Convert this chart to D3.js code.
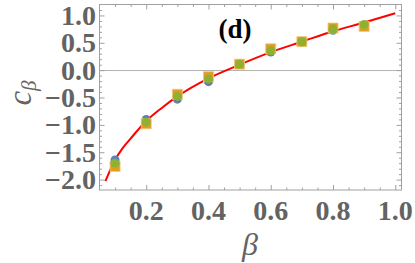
<!DOCTYPE html>
<html>
<head>
<meta charset="utf-8">
<script src="https://cdn.jsdelivr.net/npm/d3@7"></script>
<style>
  html, body { margin: 0; padding: 0; background: #fff; }
  svg { display: block; }
</style>
</head>
<body>
<div id="chart"></div>
<script>
const betas = [0.1, 0.2, 0.3, 0.4, 0.5, 0.6, 0.7, 0.8, 0.9]
const blueVals = [-1.64, -0.90, -0.53, -0.21, 0.11, 0.33, 0.51, 0.73, 0.82]
const orangeVals = [-1.76, -0.98, -0.44, -0.12, 0.11, 0.39, 0.52, 0.77, 0.80]
const greenVals = [-1.70, -0.95, -0.48, -0.16, 0.11, 0.355, 0.52, 0.75, 0.835]

const fitBeta = [0.069, 0.08, 0.1, 0.125, 0.15, 0.2, 0.25, 0.3, 0.4, 0.5, 0.6, 0.7, 0.8, 0.9, 1.0]
const fitC = [-2.03, -1.88, -1.64, -1.42, -1.25, -0.93, -0.69, -0.48, -0.15, 0.10, 0.33, 0.52, 0.71, 0.87, 1.04]

const xTicks = [0.2, 0.4, 0.6, 0.8, 1.0]
const xMinor = [0.1, 0.15, 0.25, 0.3, 0.35, 0.45, 0.5, 0.55, 0.65, 0.7, 0.75, 0.85, 0.9, 0.95]
const yTicks = [-2.0, -1.5, -1.0, -0.5, 0.0, 0.5, 1.0]
const yMinor = [-2.1, -1.9, -1.8, -1.7, -1.6, -1.4, -1.3, -1.2, -1.1, -0.9, -0.8, -0.7, -0.6,
  -0.4, -0.3, -0.2, -0.1, 0.1, 0.2, 0.3, 0.4, 0.6, 0.7, 0.8, 0.9, 1.1]

const width = 415
const height = 263
const plot = { left: 99.5, right: 401.5, top: 4.5, bottom: 190 }
const serif = "'Liberation Serif'"

const x = d3.scaleLinear().domain([0.05, 1.02]).range([plot.left, plot.right])
const y = d3.scaleLinear().domain([-2.19, 1.2]).range([plot.bottom, plot.top])

const svg = d3.select("#chart").append("svg")
  .attr("width", width)
  .attr("height", height)

const gray = "#a0a0a0"
const labelColor = "#636363"

// zero line
svg.append("line")
  .attr("x1", plot.left).attr("x2", plot.right)
  .attr("y1", Math.round(y(0)) + 0.5).attr("y2", Math.round(y(0)) + 0.5)
  .attr("stroke", "#b4b4b4").attr("stroke-width", 1)

// ticks on all four sides
function tickAxis(axis, vals, size, transform) {
  const g = svg.append("g")
    .attr("transform", transform)
    .call(axis.tickValues(vals).tickSize(size).tickFormat(""))
  g.select(".domain").remove()
  g.selectAll("line").attr("stroke", gray)
  return g
}
tickAxis(d3.axisBottom(x), xTicks, -5, `translate(0,${plot.bottom})`)
tickAxis(d3.axisBottom(x), xMinor, -2.5, `translate(0,${plot.bottom})`)
tickAxis(d3.axisTop(x), xTicks, -5, `translate(0,${plot.top})`)
tickAxis(d3.axisTop(x), xMinor, -2.5, `translate(0,${plot.top})`)
tickAxis(d3.axisLeft(y), yTicks, -5, `translate(${plot.left},0)`)
tickAxis(d3.axisLeft(y), yMinor, -2.5, `translate(${plot.left},0)`)
tickAxis(d3.axisRight(y), yTicks, -5, `translate(${plot.right},0)`)
tickAxis(d3.axisRight(y), yMinor, -2.5, `translate(${plot.right},0)`)

// frame
svg.append("rect")
  .attr("x", plot.left).attr("y", plot.top)
  .attr("width", plot.right - plot.left).attr("height", plot.bottom - plot.top)
  .attr("fill", "none").attr("stroke", gray).attr("stroke-width", 1)

// tick labels
svg.append("g").selectAll("text")
  .data(xTicks).enter().append("text")
  .attr("x", d => x(d)).attr("y", 220)
  .attr("text-anchor", "middle")
  .style("font-family", serif).style("font-weight", "bold")
  .style("font-size", "28px").attr("fill", labelColor)
  .text(d3.format(".1f"))

svg.append("g").selectAll("text")
  .data(yTicks).enter().append("text")
  .attr("x", 96).attr("y", d => y(d) + 9.5)
  .attr("text-anchor", "end")
  .style("font-family", serif).style("font-weight", "bold")
  .style("font-size", "28px").attr("fill", labelColor)
  .text(d => d3.format(".1f")(d).replace("-", "\u2212"))

// axis labels
svg.append("text")
  .attr("x", 250).attr("y", 255)
  .attr("text-anchor", "middle")
  .style("font-family", serif).style("font-style", "italic")
  .style("font-size", "32px").attr("fill", labelColor)
  .text("β")

const yl = svg.append("text")
  .attr("transform", "translate(31,93) rotate(-90)")
  .attr("text-anchor", "middle")
  .style("font-family", serif).style("font-style", "italic")
  .style("font-size", "33px").attr("fill", labelColor)
yl.append("tspan").text("c")
yl.append("tspan").attr("dy", 5).style("font-size", "21px").text("β")

// panel label
svg.append("text")
  .attr("x", 235).attr("y", 38)
  .attr("text-anchor", "middle")
  .style("font-family", serif).style("font-weight", "bold")
  .style("font-size", "27px").attr("fill", "#000")
  .text("(d)")

// fitted curve
const line = d3.line()
  .x((d, i) => x(fitBeta[i]))
  .y(d => y(d))
  .curve(d3.curveMonotoneX)
svg.append("path")
  .datum(fitC)
  .attr("d", line)
  .attr("fill", "none")
  .attr("stroke", "#ff0000")
  .attr("stroke-width", 2)

// data points
svg.append("g").selectAll("circle")
  .data(blueVals).enter().append("circle")
  .attr("cx", (d, i) => x(betas[i])).attr("cy", d => y(d))
  .attr("r", 4.5).attr("fill", "#5e81b5")

const sq = 10
svg.append("g").selectAll("rect")
  .data(orangeVals).enter().append("rect")
  .attr("x", (d, i) => x(betas[i]) - sq / 2).attr("y", d => y(d) - sq / 2)
  .attr("width", sq).attr("height", sq)
  .attr("fill", "#e19c24")
  .attr("stroke", "#f0c878").attr("stroke-width", 0.8)

svg.append("g").selectAll("circle")
  .data(greenVals).enter().append("circle")
  .attr("cx", (d, i) => x(betas[i])).attr("cy", d => y(d))
  .attr("r", 4.5).attr("fill", "#8fb131")
</script>
</body>
</html>
